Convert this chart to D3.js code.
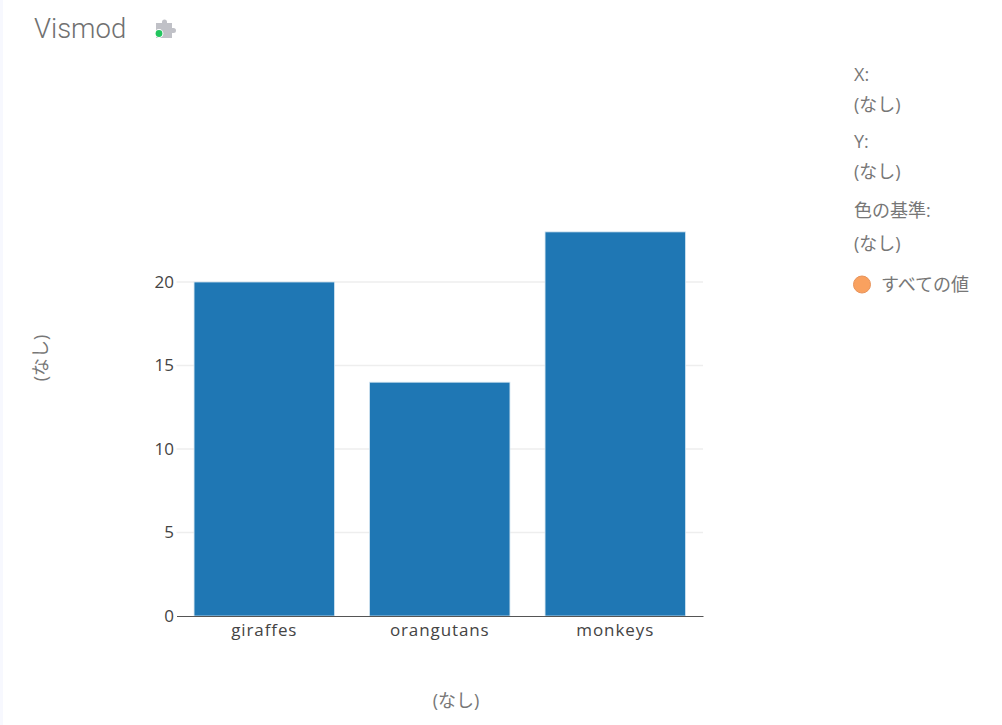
<!DOCTYPE html>
<html><head><meta charset="utf-8">
<script src="https://cdn.jsdelivr.net/npm/d3@7"></script>
<style>
html,body{margin:0;padding:0;background:#fff;overflow:hidden}
svg{display:block}
text{font-family:"Open Sans","Noto Sans CJK JP",sans-serif}
</style></head><body>
<svg id="c" width="1002" height="725"></svg>
<script>
const categories = ["giraffes","orangutans","monkeys"];
const values = [20,14,23];
const yTicks = [0,5,10,15,20];
const titleText = "Vismod";
const axisLabel = "(なし)";
const legendRows = [
  {t:"X:",y:75},{t:"(なし)",y:105},{t:"Y:",y:142},{t:"(なし)",y:172},
  {t:"色の基準:",y:211},{t:"(なし)",y:244}
];
const legendItem = "すべての値";

const svg = d3.select("#c");
svg.append("rect").attr("x",0).attr("y",0).attr("width",3).attr("height",725).attr("fill","#f7f8fe");

const x = d3.scaleBand().domain(categories).range([176.5,703]).paddingInner(0.2).paddingOuter(0.1);
const y = d3.scaleLinear().domain([0,20]).range([616,282]);

// title
svg.append("text").attr("x",34).attr("y",37.5).attr("font-size",27.5).attr("fill","#707070")
  .style("font-family","Roboto,sans-serif").style("font-weight",300).text(titleText);
// plugin icon
const icon = svg.append("g").attr("transform","translate(155,20)");
icon.append("path").attr("fill","#c0c1c7")
  .attr("d","M1 3h6v-1a2.5 2.5 0 0 1 5 0v1h5v5h1.5a2.5 2.5 0 0 1 0 5h-1.5v5h-16z");
icon.append("circle").attr("cx",4).attr("cy",13.5).attr("r",4.4).attr("fill","#fff");
icon.append("circle").attr("cx",4).attr("cy",13.5).attr("r",3.4).attr("fill","#22c55e");

// grid
svg.append("g").selectAll("line").data(yTicks.filter(d=>d>0)).join("line")
  .attr("x1",176.5).attr("x2",703).attr("y1",d=>y(d)).attr("y2",d=>y(d))
  .attr("stroke","#eeeeee").attr("stroke-width",1.5);

// bars
svg.append("g").selectAll("rect").data(values).join("rect")
  .attr("x",(d,i)=>x(categories[i])).attr("width",x.bandwidth())
  .attr("y",d=>y(d)).attr("height",d=>y(0)-y(d))
  .attr("fill","#1f77b4").attr("stroke","#d2e4f0").attr("stroke-width",0.8);

// axes
const yAxis = d3.axisLeft(y).tickValues(yTicks).tickSize(0).tickPadding(2.5);
const yG = svg.append("g").attr("transform","translate(176.5,0)").call(yAxis);
yG.select(".domain").remove();
yG.selectAll("text").attr("font-size",17).attr("fill","#444").style("font-family",'"Open Sans",sans-serif');

const xAxis = d3.axisBottom(x).tickSize(0).tickPadding(8);
const xG = svg.append("g").attr("transform","translate(0,616)").call(xAxis);
xG.select(".domain").attr("stroke","#555").attr("stroke-width",1.2);
xG.selectAll("text").attr("font-size",17).attr("fill","#444").style("letter-spacing","0.9px")
  .style("font-family",'"Open Sans",sans-serif');

// axis titles
svg.append("text").attr("x",456).attr("y",707).attr("text-anchor","middle")
  .attr("font-size",18).attr("fill","#777").text(axisLabel);
svg.append("text").attr("transform","translate(47,358) rotate(-90)").attr("text-anchor","middle")
  .attr("font-size",18).attr("fill","#777").text(axisLabel);

// legend
svg.append("g").selectAll("text").data(legendRows).join("text")
  .attr("x",854).attr("y",d=>d.y+6).attr("font-size",18).attr("fill","#777").text(d=>d.t);
svg.append("circle").attr("cx",862).attr("cy",284.5).attr("r",8.5)
  .attr("fill","#f9a15f").attr("stroke","#e8935a").attr("stroke-width",1);
svg.append("text").attr("x",881).attr("y",290.5).attr("font-size",18).attr("fill","#777").text(legendItem);
</script>
</body></html>
